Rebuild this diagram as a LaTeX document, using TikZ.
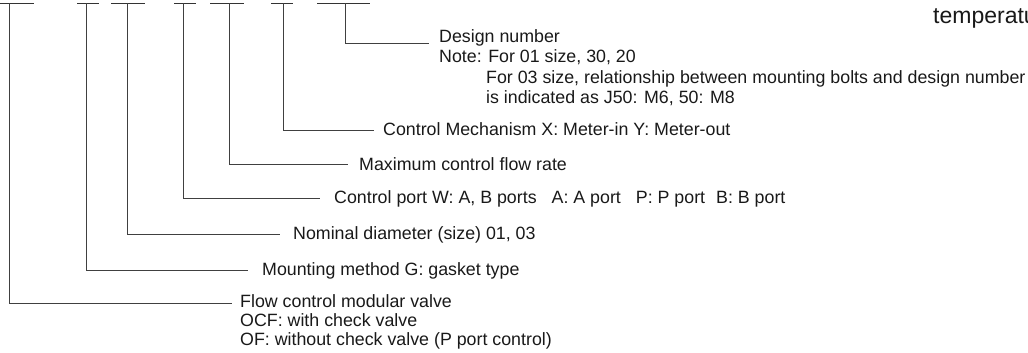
\documentclass[tikz,border=0pt]{standalone}
\usepackage{fontspec}
\setmainfont{Liberation Sans}
\begin{document}
\begin{tikzpicture}[
    x=1pt, y=-1pt,
    bar/.style={draw=black!80, line width=0.9pt},
    lead/.style={draw=black!75, line width=0.8pt},
    lbl/.style={anchor=base west, inner sep=0pt, text=black!90,
      font=\fontsize{17.8}{20}\selectfont}
  ]
    \useasboundingbox (0,0) rectangle (1028,353);
    \clip (0,0) rectangle (1028,353);
    % bar height
    \def\yt{3.5}

    % code bars along the top
    \draw[bar] (-2,\yt) -- (34,\yt);
    \draw[bar] (77,\yt) -- (99,\yt);
    \draw[bar] (111,\yt) -- (145,\yt);
    \draw[bar] (174,\yt) -- (196,\yt);
    \draw[bar] (210,\yt) -- (244,\yt);
    \draw[bar] (271,\yt) -- (293,\yt);
    \draw[bar] (317,\yt) -- (370,\yt);

    % tap points on the bars
    \coordinate (b1) at (9.5,\yt);
    \coordinate (b2) at (86,\yt);
    \coordinate (b3) at (127,\yt);
    \coordinate (b4) at (183,\yt);
    \coordinate (b5) at (229,\yt);
    \coordinate (b6) at (283,\yt);
    \coordinate (b7) at (345,\yt);

    % labels
    \node[lbl] (t7)  at (439,43)  {Design number};
    \node[lbl] (t7a) at (439,63)  {Note: For 01 size, 30, 20};
    \node[lbl] (t7b) at (486,83)  {For 03 size, relationship between mounting bolts and design number};
    \node[lbl] (t7c) at (486,103) {is indicated as J50: M6, 50: M8};
    \node[lbl] (t6)  at (383,135) {Control Mechanism X: Meter-in Y: Meter-out};
    \node[lbl] (t5)  at (359,170) {Maximum control flow rate};
    \node[lbl] (t4)  at (334,203) {Control port W: A, B ports\hspace{15pt}A: A port\hspace{15pt}P: P port\hspace{11pt}B: B port};
    \node[lbl] (t3)  at (293,239) {Nominal diameter (size) 01, 03};
    \node[lbl] (t2)  at (262,275) {Mounting method G: gasket type};
    \node[lbl] (t1)  at (240,307) {Flow control modular valve};
    \node[lbl] (t1a) at (240,326) {OCF: with check valve};
    \node[lbl] (t1b) at (240,345) {OF: without check valve (P port control)};
    \node[lbl, font=\fontsize{23}{26}\selectfont] (tmp) at (933,24) {temperatu};

    % leaders from bars to labels
    \draw[lead] (b7) |- ([xshift=-10pt]t7.base west);
    \draw[lead] (b6) |- ([xshift=-9pt,yshift=5pt]t6.base west);
    \draw[lead] (b5) |- ([xshift=-11pt,yshift=6pt]t5.base west);
    \draw[lead] (b4) |- ([xshift=-14pt,yshift=5pt]t4.base west);
    \draw[lead] (b3) |- ([xshift=-13pt,yshift=5pt]t3.base west);
    \draw[lead] (b2) |- ([xshift=-14pt,yshift=5pt]t2.base west);
    \draw[lead] (b1) |- ([xshift=-8pt,yshift=4pt]t1.base west);
\end{tikzpicture}
\end{document}
